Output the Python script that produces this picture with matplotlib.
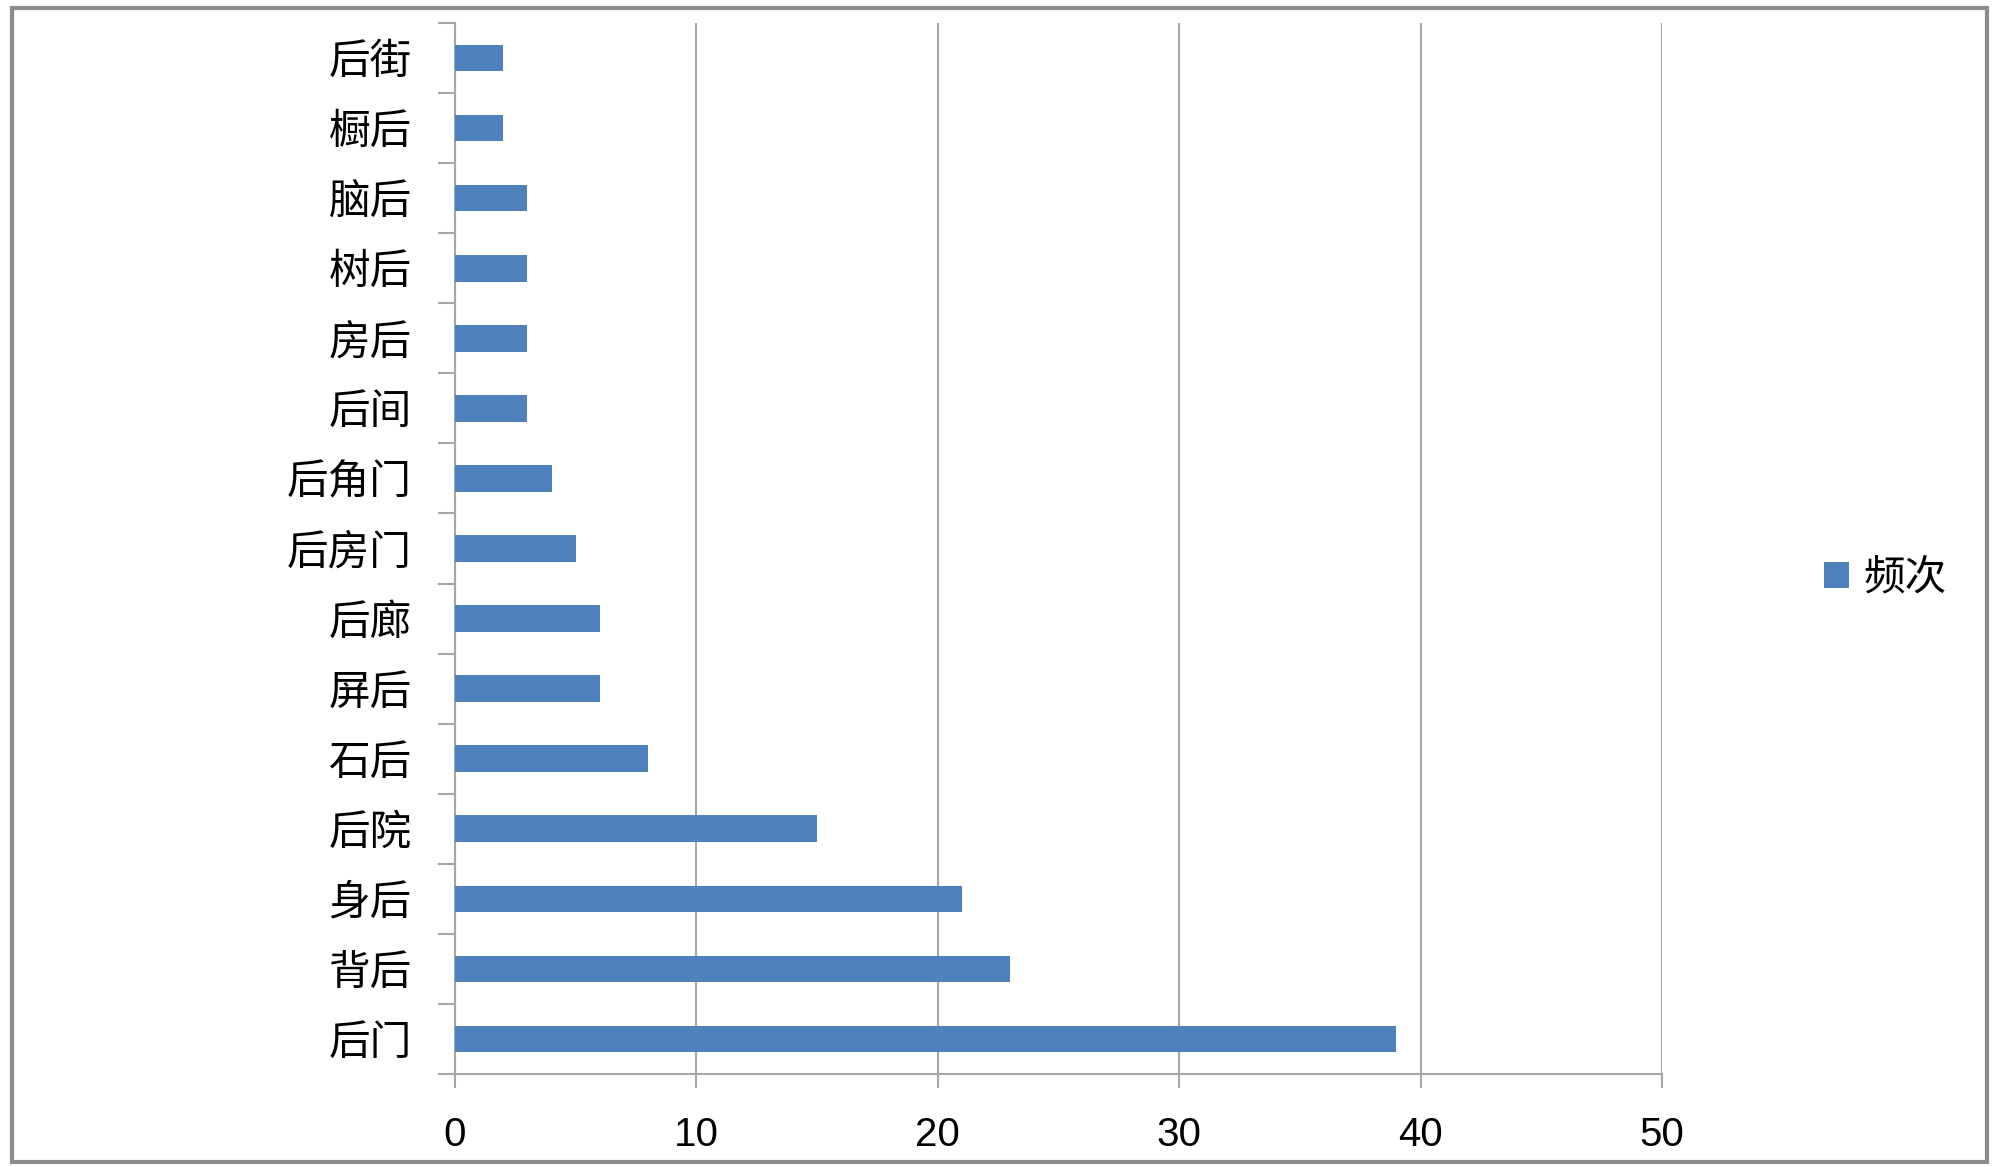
import matplotlib.pyplot as plt
from matplotlib.patches import Rectangle
from matplotlib.ticker import FixedLocator

plt.rcParams['font.family'] = ['Noto Sans CJK SC', 'DejaVu Sans']

categories = ['后街', '橱后', '脑后', '树后', '房后', '后间', '后角门', '后房门',
              '后廊', '屏后', '石后', '后院', '身后', '背后', '后门']
counts = [2, 2, 3, 3, 3, 3, 4, 5, 6, 6, 8, 15, 21, 23, 39]
x_ticks = [0, 10, 20, 30, 40, 50]
series_name = '频次'

bar_color = '#4F81BD'
axis_gray = '#A6A6A6'

fig = plt.figure(figsize=(20, 11.67), dpi=100)
ax = fig.add_axes([455 / 2000, 1 - 1074 / 1167, (1662 - 455) / 2000, (1074 - 23) / 1167])

# outer chart border
fig.patches.append(Rectangle((12 / 2000, 5 / 1167), (1987 - 12) / 2000, (1159 - 5) / 1167,
                             transform=fig.transFigure, fill=False,
                             edgecolor='#8C8C8C', linewidth=3))

ypos = list(range(len(categories)))
ax.barh(ypos, counts, height=0.38, color=bar_color, label=series_name, zorder=3)

ax.set_xlim(0, 50)
ax.set_ylim(len(categories) - 0.5, -0.5)

ax.set_xticks(x_ticks)
ax.set_xticklabels([str(t) for t in x_ticks], family='Liberation Sans', fontsize=29)
ax.tick_params(axis='x', length=10, width=1.5, color=axis_gray, pad=20)

ax.set_yticks(ypos)
ax.set_yticklabels(categories, fontsize=30)
ax.tick_params(axis='y', length=0, pad=31)
ax.yaxis.set_minor_locator(FixedLocator([i - 0.5 for i in range(len(categories) + 1)]))
ax.tick_params(axis='y', which='minor', length=12, width=1.5, color=axis_gray)

ax.grid(axis='x', color=axis_gray, linewidth=1.5, zorder=0)
for side in ['top', 'right']:
    ax.spines[side].set_visible(False)
for side in ['left', 'bottom']:
    ax.spines[side].set_color(axis_gray)
    ax.spines[side].set_linewidth(1.5)

leg = fig.legend(loc='center left', bbox_to_anchor=(1803 / 2000, 1 - 578 / 1167),
                 frameon=False, fontsize=30, handlelength=0.6, handleheight=0.6,
                 handletextpad=0.35, borderpad=0)

fig.savefig('out.png', dpi=100)
